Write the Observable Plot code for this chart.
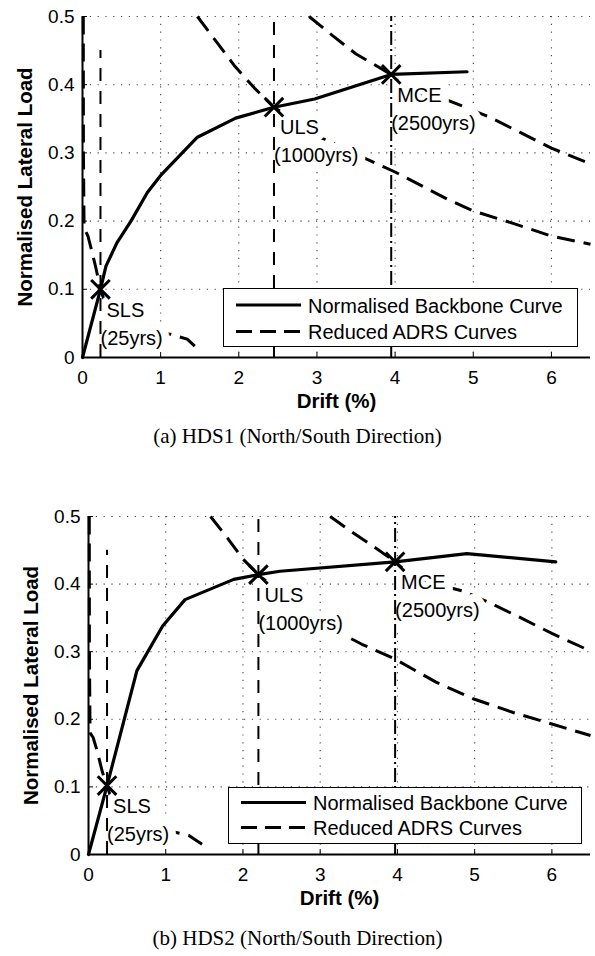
<!DOCTYPE html>
<html><head><meta charset="utf-8">
<script src="https://cdn.jsdelivr.net/npm/d3@7"></script>
<script src="https://cdn.jsdelivr.net/npm/@observablehq/plot@0.6"></script>
<style>
body{margin:0;background:#fff;}
#page{position:relative;width:595px;height:956px;overflow:hidden;font-family:"Liberation Sans",Arial,sans-serif;background:#fff;}
.panel{position:absolute;left:0;}
.caption{position:absolute;left:0;width:595px;text-align:center;font-family:"Liberation Serif","Times New Roman",serif;font-size:21px;line-height:24px;color:#000;white-space:nowrap;}
.legend{position:absolute;background:#fff;border:1.3px solid #000;box-sizing:border-box;}
.legend svg{display:block;}
</style></head><body><div id="page"></div>
<script>
// ---------- shared ----------
const xTicks = [0, 1, 2, 3, 4, 5, 6];
const yTicks = [0, 0.1, 0.2, 0.3, 0.4, 0.5];
const xGrid = [1, 2, 3, 4, 5, 6];
const yGrid = [0.1, 0.2, 0.3, 0.4, 0.5];
const limitNames = ["SLS", "ULS", "MCE"];
const returnPeriods = ["(25yrs)", "(1000yrs)", "(2500yrs)"];
const limitLineTop = [0.45, 0.5, 0.5];
const legendLabels = ["Normalised Backbone Curve", "Reduced ADRS Curves"];
const captions = ["(a) HDS1 (North/South Direction)", "(b) HDS2 (North/South Direction)"];
const xTitle = "Drift (%)";
const yTitle = "Normalised Lateral Load";

// ---------- (a) HDS1 ----------
const backboneA = [[0,0],[0.23,0.10],[0.30,0.134],[0.44,0.168],[0.62,0.20],[0.83,0.242],[1.0,0.267],[1.47,0.323],[1.96,0.351],[2.45,0.367],[2.97,0.379],[3.95,0.415],[4.92,0.419]];
const adrsSLS_A = [[0.01,0.5],[0.012,0.30],[0.02,0.19],[0.07,0.178],[0.11,0.16],[0.17,0.132],[0.23,0.10],[0.32,0.07],[0.45,0.05],[0.65,0.04],[0.9,0.036],[1.13,0.034],[1.34,0.027],[1.47,0.013]];
const adrsULS_A = [[1.47,0.5],[1.7,0.465],[1.95,0.427],[2.2,0.395],[2.45,0.367],[3.0,0.325],[3.65,0.29],[4.0,0.272],[4.67,0.232],[5.0,0.215],[5.5,0.197],[6.0,0.178],[6.5,0.166]];
const adrsMCE_A = [[2.9,0.5],[3.2,0.472],[3.5,0.445],[3.95,0.415],[4.1,0.398],[4.3,0.386],[4.7,0.376],[5.2,0.353],[5.6,0.33],[6.0,0.307],[6.5,0.284]];
const limitDriftA = [0.23, 2.45, 3.95];
const limitLoadA = [0.10, 0.367, 0.415];

// ---------- (b) HDS2 ----------
const backboneB = [[0,0],[0.24,0.102],[0.627,0.272],[0.96,0.338],[1.25,0.377],[1.88,0.407],[2.2,0.414],[2.48,0.419],[3.97,0.433],[4.9,0.445],[6.05,0.433]];
const adrsSLS_B = [[0.01,0.5],[0.012,0.30],[0.02,0.18],[0.06,0.173],[0.11,0.154],[0.18,0.122],[0.24,0.102],[0.33,0.07],[0.46,0.05],[0.65,0.04],[0.9,0.035],[1.12,0.033],[1.3,0.028],[1.47,0.015]];
const adrsULS_B = [[1.58,0.5],[1.8,0.468],[2.0,0.437],[2.2,0.414],[2.8,0.355],[3.54,0.311],[3.97,0.289],[4.5,0.255],[4.99,0.23],[5.5,0.21],[6.0,0.193],[6.5,0.176]];
const adrsMCE_B = [[3.13,0.5],[3.4,0.478],[3.7,0.455],[3.97,0.433],[4.15,0.415],[4.4,0.403],[4.84,0.39],[5.2,0.372],[5.6,0.35],[6.0,0.327],[6.5,0.301]];
const limitDriftB = [0.24, 2.2, 3.97];
const limitLoadB = [0.102, 0.414, 0.433];

const FONT = "'Liberation Sans', Arial, sans-serif";

function panel(o) {
  const lim = limitNames.map((n, i) => ({name: n, period: returnPeriods[i], x: o.drift[i], y: o.load[i], top: limitLineTop[i], kind: i}));
  const grid = {stroke: "#444", strokeWidth: 1.1, strokeDasharray: "1.2,6.6"};
  const dashed = {stroke: "black", strokeWidth: 3, strokeDasharray: "18,9", strokeLinecap: "butt", strokeLinejoin: "miter"};
  const halo = {x: "x", y: "y", lineAnchor: "top", textAnchor: "start", fontSize: 20, fill: "black", stroke: "white", strokeWidth: 16, paintOrder: "stroke", strokeLinejoin: "round"};
  return Plot.plot({
    width: 595, height: 420,
    marginTop: o.mt, marginBottom: o.mb, marginLeft: o.ml, marginRight: 5,
    x: {domain: [0, 6.5]},
    y: {domain: [0, 0.5]},
    style: {fontFamily: FONT, fontSize: "19px", background: "white", color: "black", overflow: "visible"},
    marks: [
      Plot.ruleX(xGrid, grid),
      Plot.ruleY(yGrid, grid),
      Plot.line(o.sls, dashed),
      Plot.line(o.uls, dashed),
      Plot.line(o.mce, dashed),
      Plot.text(lim, {...halo, text: "name", dx: 6, dy: 13}),
      Plot.text(lim, {...halo, text: "period", dx: 0, dy: 41}),
      Plot.ruleX([0], {stroke: "black", strokeWidth: 2}),
      Plot.ruleY([0], {stroke: "black", strokeWidth: 2}),
      Plot.ruleX(lim.filter(d => d.kind < 2), {x: "x", y1: 0, y2: "top", stroke: "black", strokeWidth: 2, strokeDasharray: "13,10"}),
      Plot.ruleX(lim.filter(d => d.kind === 2), {x: "x", y1: 0, y2: "top", stroke: "black", strokeWidth: 2, strokeDasharray: "14,4,2,4"}),
      Plot.line(o.backbone, {stroke: "black", strokeWidth: 3.2, strokeLinejoin: "round"}),
      Plot.dot(lim, {x: "x", y: "y", symbol: "times", r: 8.5, stroke: "black", strokeWidth: 3}),
      Plot.axisX({ticks: xTicks, tickSize: -5, tickPadding: 18, tickFormat: d => String(d), label: null, fontSize: 19}),
      Plot.axisY({ticks: yTicks, tickSize: -5, tickPadding: 13, tickFormat: d => String(d), label: null, fontSize: 19}),
      Plot.text([xTitle], {text: d => d, frameAnchor: "bottom", textAnchor: "middle", lineAnchor: "top", dy: 36, fontWeight: "bold", fontSize: 20.5}),
      Plot.text([yTitle], {text: d => d, frameAnchor: "left", textAnchor: "middle", lineAnchor: "middle", rotate: -90, dx: -57, fontWeight: "bold", fontSize: 20.5})
    ]
  });
}

function legend(box) {
  const div = document.createElement("div");
  div.className = "legend";
  Object.assign(div.style, {left: box.left + "px", top: box.top + "px", width: box.w + "px", height: box.h + "px"});
  const ns = "http://www.w3.org/2000/svg";
  const svg = document.createElementNS(ns, "svg");
  svg.setAttribute("width", box.w - 2.6);
  svg.setAttribute("height", box.h - 2.6);
  legendLabels.forEach((lab, i) => {
    const ln = document.createElementNS(ns, "line");
    ln.setAttribute("x1", 12); ln.setAttribute("x2", 77);
    ln.setAttribute("y1", box.rows[i]); ln.setAttribute("y2", box.rows[i]);
    ln.setAttribute("stroke", "black"); ln.setAttribute("stroke-width", 3);
    if (i === 1) ln.setAttribute("stroke-dasharray", "16,8");
    svg.appendChild(ln);
    const t = document.createElementNS(ns, "text");
    t.setAttribute("x", 84); t.setAttribute("y", box.rows[i] + 7.5);
    t.setAttribute("font-size", 20); t.setAttribute("font-family", FONT);
    t.textContent = lab;
    svg.appendChild(t);
  });
  div.appendChild(svg);
  return div;
}

const page = document.getElementById("page");

const pA = panel({backbone: backboneA, sls: adrsSLS_A, uls: adrsULS_A, mce: adrsMCE_A, drift: limitDriftA, load: limitLoadA, mt: 16, mb: 63, ml: 82});
pA.classList.add("panel"); pA.style.top = "0px";
page.appendChild(pA);
page.appendChild(legend({left: 223, top: 288, w: 355, h: 59, rows: [16, 42.5]}));

const cA = document.createElement("div");
cA.className = "caption"; cA.style.top = "424px"; cA.textContent = captions[0];
page.appendChild(cA);

const pB = panel({backbone: backboneB, sls: adrsSLS_B, uls: adrsULS_B, mce: adrsMCE_B, drift: limitDriftB, load: limitLoadB, mt: 16, mb: 66, ml: 88});
pB.classList.add("panel"); pB.style.top = "500px";
page.appendChild(pB);
page.appendChild(legend({left: 228, top: 787, w: 354, h: 57, rows: [14.5, 39.5]}));

const cB = document.createElement("div");
cB.className = "caption"; cB.style.top = "926px"; cB.textContent = captions[1];
page.appendChild(cB);
</script>
</body></html>
